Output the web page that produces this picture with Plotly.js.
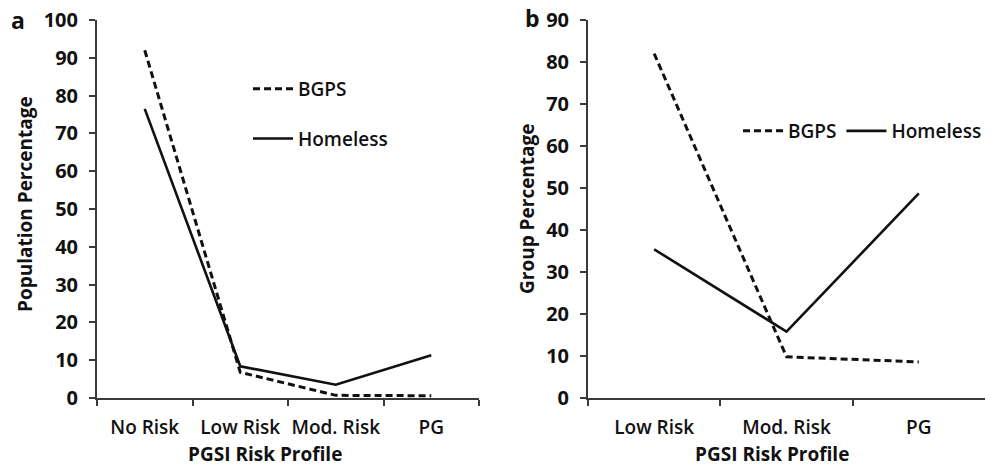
<!DOCTYPE html>
<html><head><meta charset="utf-8">
<script src="https://cdn.plot.ly/plotly-3.0.1.min.js"></script>
<style>html,body{margin:0;padding:0;background:#fff}</style>
</head><body>
<div id="chart" style="width:990px;height:469px"></div>
<script>
const catsA = ["No Risk", "Low Risk", "Mod. Risk", "PG"];
const bgpsA = [92, 6.8, 0.7, 0.6];
const homelessA = [76.5, 8.4, 3.5, 11.3];
const catsB = ["Low Risk", "Mod. Risk", "PG"];
const bgpsB = [82, 9.8, 8.6];
const homelessB = [35.4, 15.8, 48.7];
const ticksA = [0,10,20,30,40,50,60,70,80,90,100];
const ticksB = [0,10,20,30,40,50,60,70,80,90];

const fnt = "Open Sans, Lato, sans-serif";
const dashLine = {color:"#111", width:3, dash:"7px,4px"};
const solidLine = {color:"#111", width:2.6};

const traces = [
  {x:catsA, y:bgpsA, name:"BGPS", type:"scatter", mode:"lines", line:dashLine, xaxis:"x", yaxis:"y", legend:"legend", legendgroup:"a1"},
  {x:catsA, y:homelessA, name:"Homeless", type:"scatter", mode:"lines", line:solidLine, xaxis:"x", yaxis:"y", legend:"legend", legendgroup:"a2"},
  {x:catsB, y:bgpsB, name:"BGPS", type:"scatter", mode:"lines", line:dashLine, xaxis:"x2", yaxis:"y2", legend:"legend2"},
  {x:catsB, y:homelessB, name:"Homeless", type:"scatter", mode:"lines", line:solidLine, xaxis:"x2", yaxis:"y2", legend:"legend2"}
];

const axCol = "#3a3a3a";
const xCommon = {type:"category", showgrid:false, zeroline:false, showline:true, linecolor:axCol, linewidth:2,
  ticks:"outside", tickson:"boundaries", ticklen:6, tickwidth:2, tickcolor:axCol, tickangle:0,
  tickfont:{family:fnt, size:19, color:"#111", weight:600}, ticklabelstandoff:11, fixedrange:true};
const yCommon = {showgrid:false, zeroline:false, showline:true, linecolor:axCol, linewidth:2,
  ticks:"outside", ticklen:6, tickwidth:2, tickcolor:axCol,
  tickfont:{family:fnt, size:20, color:"#111", weight:700}, ticklabelstandoff:7, fixedrange:true};

const yDom = [(469-398)/469, (469-20)/469];

const layout = {
  width:990, height:469, margin:{l:0,r:0,t:0,b:0},
  paper_bgcolor:"#fff", plot_bgcolor:"#fff",
  showlegend:true,
  xaxis: Object.assign({}, xCommon, {domain:[97/990, 479/990], range:[-0.5,3.5], anchor:"y"}),
  yaxis: Object.assign({}, yCommon, {domain:yDom, range:[0,100], tickvals:ticksA, anchor:"x"}),
  xaxis2: Object.assign({}, xCommon, {domain:[588/990, 985/990], range:[-0.5,2.5], anchor:"y2"}),
  yaxis2: Object.assign({}, yCommon, {domain:yDom, range:[0,90], tickvals:ticksB, anchor:"x2"}),
  legend: {x:248/990, y:(469-70)/469, xanchor:"left", yanchor:"top", orientation:"v",
    bgcolor:"rgba(0,0,0,0)", font:{family:fnt, size:19, color:"#111", weight:600},
    tracegroupgap:22, itemwidth:40},
  legend2: {x:738/990, y:(469-112)/469, xanchor:"left", yanchor:"top", orientation:"h",
    bgcolor:"rgba(0,0,0,0)", font:{family:fnt, size:19, color:"#111", weight:600}, itemwidth:40},
  annotations: [
    {text:"a", x:18/990, y:(469-20)/469, xref:"paper", yref:"paper", showarrow:false, xanchor:"center", yanchor:"middle", font:{family:fnt, size:23, color:"#111", weight:700}},
    {text:"b", x:532/990, y:(469-18)/469, xref:"paper", yref:"paper", showarrow:false, xanchor:"center", yanchor:"middle", font:{family:fnt, size:23, color:"#111", weight:700}},
    {text:"Population Percentage", x:25/990, y:(469-204)/469, xref:"paper", yref:"paper", showarrow:false, textangle:-90, xanchor:"center", yanchor:"middle", font:{family:fnt, size:19, color:"#111", weight:700}},
    {text:"Group Percentage", x:527/990, y:(469-209)/469, xref:"paper", yref:"paper", showarrow:false, textangle:-90, xanchor:"center", yanchor:"middle", font:{family:fnt, size:19, color:"#111", weight:700}},
    {text:"PGSI Risk Profile", x:265/990, y:(469-454)/469, xref:"paper", yref:"paper", showarrow:false, xanchor:"center", yanchor:"middle", font:{family:fnt, size:19, color:"#111", weight:700}},
    {text:"PGSI Risk Profile", x:772/990, y:(469-454)/469, xref:"paper", yref:"paper", showarrow:false, xanchor:"center", yanchor:"middle", font:{family:fnt, size:19, color:"#111", weight:700}}
  ]
};

Plotly.newPlot("chart", traces, layout, {displayModeBar:false, staticPlot:true});
</script>
</body></html>
